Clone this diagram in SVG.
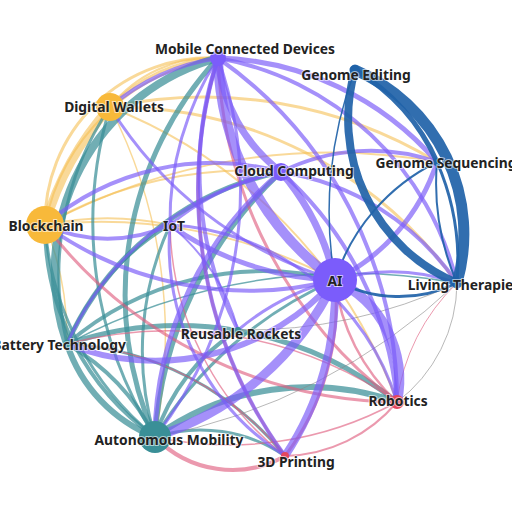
<svg xmlns="http://www.w3.org/2000/svg" width="512" height="512" viewBox="0 0 512 512">
<style>
.e{fill:none;stroke-linecap:round}
.p{stroke:#7a5cf8;stroke-opacity:.68}
.y{stroke:#f5bf55;stroke-opacity:.6}
.b{stroke:#1f62a8;stroke-opacity:.92}
.t{stroke:#3a8f97;stroke-opacity:.72}
.k{stroke:#df5a7d;stroke-opacity:.62}
.g{stroke:#888;stroke-opacity:.6}
.lbl{font-family:"Noto Sans","DejaVu Sans",sans-serif;font-weight:700;font-size:13.8px;fill:#222;text-anchor:middle;dominant-baseline:central;stroke:#fff;stroke-width:2;stroke-opacity:.6;paint-order:stroke}
</style>
<rect width="512" height="512" fill="#fff"/>
<g id="connectors">
<!-- yellow -->
<path class="e y" stroke-width="3" d="M45,225 A165,165 0 0 1 218,58"/>
<path class="e y" stroke-width="2" d="M45,225 A210,210 0 0 1 218,58"/>
<path class="e y" stroke-width="3" d="M110,107 A160,160 0 0 1 218,58"/>
<path class="e y" stroke-width="2" d="M110,107 A130,130 0 0 1 218,58"/>
<path class="e y" stroke-width="2" d="M45,225 A400,400 0 0 1 281,172"/>
<path class="e y" stroke-width="3" d="M110,107 A450,450 0 0 1 437,162"/>
<path class="e y" stroke-width="3" d="M110,107 A420,420 0 0 1 457,283"/>
<path class="e y" stroke-width="2" d="M45,225 A500,500 0 0 1 335,280"/>
<path class="e y" stroke-width="2" d="M45,225 A300,300 0 0 1 170,225"/>
<path class="e y" stroke-width="1.5" d="M110,107 A500,500 0 0 1 155,437"/>
<path class="e y" stroke-width="1.5" d="M45,225 A300,300 0 0 1 67,344"/>
<path class="e y" stroke-width="2" d="M110,107 A500,500 0 0 1 397,402"/>
<path class="e y" stroke-width="2" d="M45,225 A600,600 0 0 1 437,162"/>
<path class="e y" stroke-width="9" d="M45,225 A300,300 0 0 1 110,107"/>
<!-- teal -->
<path class="e t" stroke-width="8" d="M67,344 A221,221 0 0 1 218,58"/>
<path class="e t" stroke-width="5" d="M155,437 A350,350 0 0 1 218,58"/>
<path class="e t" stroke-width="6" d="M67,344 A150,150 0 0 0 155,437"/>
<path class="e t" stroke-width="4" d="M67,344 A220,220 0 0 1 155,437"/>
<path class="e t" stroke-width="4" d="M155,437 A260,260 0 0 1 45,225"/>
<path class="e t" stroke-width="3" d="M155,437 A300,300 0 0 1 45,225"/>
<path class="e t" stroke-width="3" d="M155,437 A400,400 0 0 1 110,107"/>
<path class="e t" stroke-width="6" d="M155,437 A263,263 0 0 1 397,402"/>
<path class="e t" stroke-width="5" d="M67,344 A350,350 0 0 1 397,402"/>
<path class="e t" stroke-width="3" d="M67,344 A300,300 0 0 1 285,456"/>
<path class="e t" stroke-width="5" d="M155,437 A400,400 0 0 1 281,172"/>
<path class="e t" stroke-width="5" d="M67,344 A300,300 0 0 1 281,172"/>
<path class="e t" stroke-width="3" d="M155,437 A300,300 0 0 1 170,225"/>
<path class="e t" stroke-width="4" d="M155,437 A200,200 0 0 1 238,330"/>
<path class="e t" stroke-width="3" d="M155,437 A400,400 0 0 1 335,280"/>
<path class="e t" stroke-width="3" d="M67,344 A250,250 0 0 1 170,225"/>
<path class="e t" stroke-width="4" d="M67,344 A300,300 0 0 1 335,280"/>
<path class="e t" stroke-width="1.5" d="M67,344 A600,600 0 0 1 457,283"/>
<path class="e t" stroke-width="3" d="M67,344 A300,300 0 0 1 110,107"/>
<path class="e t" stroke-width="3" d="M155,437 A150,150 0 0 1 285,456"/>
<!-- pink -->
<path class="e k" stroke-width="4" d="M155,437 A107,107 0 0 0 285,456"/>
<path class="e k" stroke-width="2" d="M397,402 A150,150 0 0 1 285,456"/>
<path class="e k" stroke-width="1.5" d="M397,402 A350,350 0 0 1 155,437"/>
<path class="e k" stroke-width="3" d="M285,456 A450,450 0 0 1 218,58"/>
<path class="e k" stroke-width="3" d="M397,402 A450,450 0 0 1 218,58"/>
<path class="e k" stroke-width="3" d="M45,225 A450,450 0 0 0 397,402"/>
<path class="e k" stroke-width="2.5" d="M335,280 A200,200 0 0 0 397,402"/>
<path class="e k" stroke-width="1" d="M397,402 A200,200 0 0 1 457,283"/>
<path class="e k" stroke-width="1.5" d="M285,456 A300,300 0 0 1 170,225"/>
<path class="e k" stroke-width="1.5" d="M285,456 A300,300 0 0 0 67,344"/>
<path class="e k" stroke-width="1.5" d="M397,402 A400,400 0 0 0 67,344"/>
<path class="e k" stroke-width="3" d="M285,456 A250,250 0 0 0 335,280"/>
<!-- grey -->
<path class="e g" stroke-width="1" d="M457,283 A150,150 0 0 1 397,402"/>
<path class="e g" stroke-width="1" d="M457,283 A500,500 0 0 1 238,330"/>
<path class="e g" stroke-width="1" d="M457,283 A600,600 0 0 1 155,437"/>
<!-- purple -->
<path class="e p" stroke-width="10" d="M218,58 A280,280 0 0 0 335,280"/>
<path class="e p" stroke-width="7" d="M218,58 A160,160 0 0 0 281,172"/>
<path class="e p" stroke-width="5" d="M218,58 A300,300 0 0 1 437,162"/>
<path class="e p" stroke-width="4" d="M218,58 A300,300 0 0 1 457,283"/>
<path class="e p" stroke-width="4" d="M218,58 A420,420 0 0 1 397,402"/>
<path class="e p" stroke-width="4" d="M218,58 A220,220 0 0 0 110,107"/>
<path class="e p" stroke-width="3" d="M218,58 A300,300 0 0 0 170,225"/>
<path class="e p" stroke-width="4" d="M218,58 A350,350 0 0 0 238,330"/>
<path class="e p" stroke-width="4" d="M218,58 A450,450 0 0 0 285,456"/>
<path class="e p" stroke-width="3" d="M218,58 A400,400 0 0 1 155,437"/>
<path class="e p" stroke-width="10" d="M335,280 A110,110 0 0 1 397,402"/>
<path class="e p" stroke-width="8" d="M335,280 A300,300 0 0 1 285,456"/>
<path class="e p" stroke-width="9" d="M335,280 A300,300 0 0 1 155,437"/>
<path class="e p" stroke-width="6" d="M335,280 A240,240 0 0 1 67,344"/>
<path class="e p" stroke-width="4" d="M335,280 A350,350 0 0 1 45,225"/>
<path class="e p" stroke-width="5" d="M335,280 A300,300 0 0 1 170,225"/>
<path class="e p" stroke-width="7" d="M335,280 A250,250 0 0 0 281,172"/>
<path class="e p" stroke-width="5" d="M335,280 A200,200 0 0 0 437,162"/>
<path class="e p" stroke-width="3" d="M335,280 A200,200 0 0 1 457,283"/>
<path class="e p" stroke-width="3" d="M335,280 A250,250 0 0 0 238,330"/>
<path class="e p" stroke-width="3" d="M335,280 A400,400 0 0 1 110,107"/>
<path class="e p" stroke-width="4" d="M281,172 A200,200 0 0 1 437,162"/>
<path class="e p" stroke-width="4" d="M281,172 A260,260 0 0 1 457,283"/>
<path class="e p" stroke-width="3" d="M281,172 A250,250 0 0 0 170,225"/>
<path class="e p" stroke-width="4" d="M281,172 A259,259 0 0 0 45,225"/>
<path class="e p" stroke-width="5" d="M281,172 A350,350 0 0 0 155,437"/>
<path class="e p" stroke-width="4" d="M281,172 A350,350 0 0 1 397,402"/>
<path class="e p" stroke-width="3" d="M281,172 A300,300 0 0 0 67,344"/>
<path class="e p" stroke-width="4" d="M170,225 A150,150 0 0 1 45,225"/>
<path class="e p" stroke-width="3" d="M170,225 A250,250 0 0 0 285,456"/>
<path class="e p" stroke-width="3" d="M170,225 A250,250 0 0 1 397,402"/>
<path class="e p" stroke-width="2" d="M170,225 A200,200 0 0 1 238,330"/>
<!-- blue -->
<path class="e b" stroke-width="11" d="M355,70 A178,178 0 0 1 457,283"/>
<path class="e b" stroke-width="8" d="M355,70 A178,178 0 0 0 457,283"/>
<path class="e b" stroke-width="5" d="M355,70 A200,200 0 0 1 437,162"/>
<path class="e b" stroke-width="3" d="M437,162 A250,250 0 0 1 457,283"/>
<path class="e b" stroke-width="2" d="M437,162 A250,250 0 0 0 457,283"/>
<path class="e b" stroke-width="2" d="M437,162 A200,200 0 0 0 335,280"/>
<path class="e b" stroke-width="1.5" d="M355,70 A400,400 0 0 0 335,280"/>
<path class="e b" stroke-width="3" d="M457,283 A131,131 0 0 1 335,280"/>
</g>
<g id="n-ai"><circle cx="335" cy="280" r="22" fill="#7b5cfb"/></g>
<g id="n-blockchain"><circle cx="45" cy="225" r="19" fill="#f8b93a"/></g>
<g id="n-autonomous"><circle cx="155" cy="437" r="16" fill="#3a8f97"/></g>
<g id="n-wallets"><circle cx="110" cy="107" r="14" fill="#f8b93a"/></g>
<g id="n-cloud"><circle cx="281" cy="172" r="9" fill="#7b5cfb"/></g>
<g id="n-mobile"><circle cx="218" cy="58" r="8" fill="#7b5cfb"/></g>
<g id="n-robotics"><circle cx="397" cy="402" r="7" fill="#e5475f"/></g>
<g id="n-iot"><circle cx="170" cy="225" r="5" fill="#7b5cfb"/></g>
<g id="n-editing"><circle cx="355" cy="70" r="5" fill="#1f62a8"/></g>
<g id="n-sequencing"><circle cx="437" cy="162" r="4" fill="#1f62a8"/></g>
<g id="n-living"><circle cx="457" cy="283" r="4" fill="#1f62a8"/></g>
<g id="n-battery"><circle cx="67" cy="344" r="4" fill="#3a8f97"/></g>
<g id="n-rockets"><circle cx="238" cy="330" r="3" fill="#3a8f97"/></g>
<g id="n-3d"><circle cx="285" cy="456" r="4" fill="#e5475f"/></g>
<g id="labels">
<text class="lbl" x="245" y="48">Mobile Connected Devices</text>
<text class="lbl" x="356" y="74">Genome Editing</text>
<text class="lbl" x="114" y="106">Digital Wallets</text>
<text class="lbl" x="446" y="162">Genome Sequencing</text>
<text class="lbl" x="294" y="170">Cloud Computing</text>
<text class="lbl" x="46" y="225">Blockchain</text>
<text class="lbl" x="174" y="225">IoT</text>
<text class="lbl" x="335" y="280">AI</text>
<text class="lbl" x="464" y="284">Living Therapies</text>
<text class="lbl" x="59" y="344">Battery Technology</text>
<text class="lbl" x="241" y="333">Reusable Rockets</text>
<text class="lbl" x="398" y="400">Robotics</text>
<text class="lbl" x="169" y="439">Autonomous Mobility</text>
<text class="lbl" x="296" y="461">3D Printing</text>
</g>
</svg>
